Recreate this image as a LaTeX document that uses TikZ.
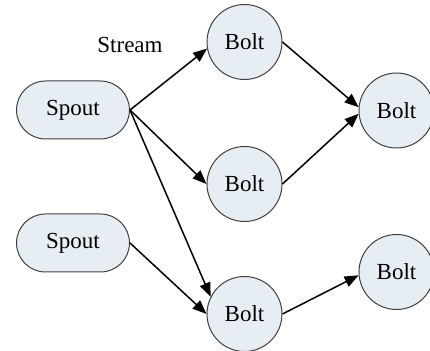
\documentclass[tikz,border=0pt]{standalone}
\usepackage{fontspec}
\setmainfont{Liberation Serif}
\usetikzlibrary{arrows.meta}
\definecolor{nodefill}{RGB}{230,238,244}
\begin{document}
\begin{tikzpicture}[x=0.5pt,y=-0.5pt,
  font=\fontsize{11.5}{13}\selectfont,
  spout/.style={draw=black!75,line width=0.5pt,fill=nodefill,rounded corners=14.5pt,
    minimum width=56.5pt,minimum height=29pt,inner sep=0pt},
  bolt/.style={draw=black!75,line width=0.5pt,fill=nodefill,circle,
    minimum size=37.5pt,inner sep=0pt},
  flow/.style={black,line width=0.75pt,-{Triangle[length=7pt,width=5.5pt]}}]
 \useasboundingbox (0,0) rectangle (430,351);
 % spouts
 \node [spout] (spoutA) at (73,110) {Spout};
 \node [spout] (spoutB) at (73,243) {Spout};
 % bolts
 \node [bolt] (boltA) at (244.5,42) {Bolt};
 \node [bolt] (boltB) at (244.5,184) {Bolt};
 \node [bolt] (boltC) at (244.5,314) {Bolt};
 \node [bolt] (boltD) at (396.5,110.5) {Bolt};
 \node [bolt] (boltE) at (396.5,272) {Bolt};
 \node (stream) at (130,45) {Stream};
 % streams
 \draw [flow] (spoutA.east) -- (boltA.190);
 \draw [flow] (spoutA.east) -- (boltB.west);
 \draw [flow] (spoutA.east) -- (boltC.153);
 \draw [flow] (spoutB.east) -- (boltC.west);
 \draw [flow] (boltA.east) -- (boltD.175);
 \draw [flow] (boltB.east) -- (boltD.185);
 \draw [flow] (boltC.east) -- (boltE.185);
\end{tikzpicture}
\end{document}
